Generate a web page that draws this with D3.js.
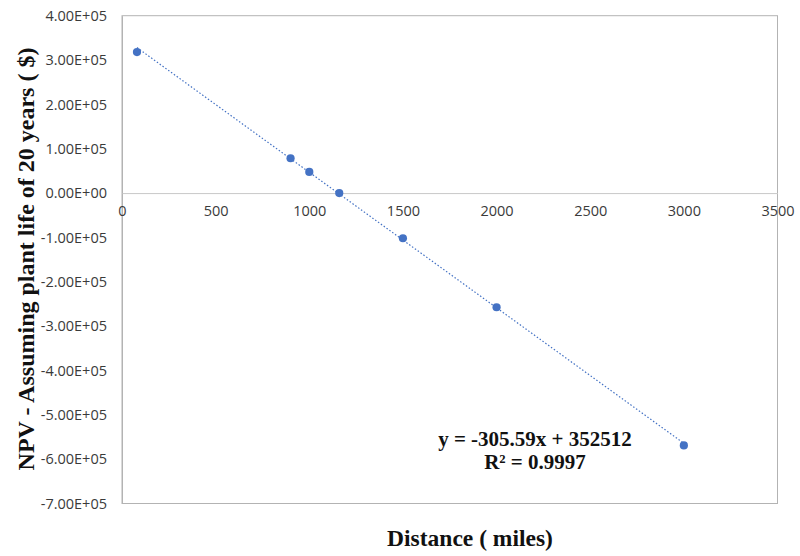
<!DOCTYPE html>
<html><head><meta charset="utf-8">
<script src="https://cdn.jsdelivr.net/npm/d3@7"></script>
<style>body{margin:0;background:#fff}</style>
</head><body>
<svg id="c" width="800" height="556"></svg>
<script>
const distances = [80, 900, 1000, 1160, 1500, 2000, 3000];
const npvValues = [318000, 78500, 47600, 0, -101900, -257500, -569000];
const xTicks = [0, 500, 1000, 1500, 2000, 2500, 3000, 3500];
const yTicks = [400000, 300000, 200000, 100000, 0, -100000, -200000, -300000, -400000, -500000, -600000, -700000];
const slope = -305.59, intercept = 352512;
const eqLines = ["y = -305.59x + 352512", "R² = 0.9997"];

const svg = d3.select("#c");
const L = 122, R = 777.5, T = 15.7, B = 503.5;
const x = d3.scaleLinear().domain([0, 3500]).range([L, R]);
const y = d3.scaleLinear().domain([-700000, 400000]).range([B, T]);
const fmt = v => v.toExponential(2).toUpperCase().replace("E+", "E+0").replace("E-", "E-0");
const fmtY = v => v === 0 ? "0.00E+00" : fmt(v);

// plot border
svg.append("rect").attr("x", L).attr("y", T).attr("width", R - L).attr("height", B - T)
  .attr("fill", "none").attr("stroke", "#b3b3b3").attr("stroke-width", 1);

// y axis
const yAxis = d3.axisLeft(y).tickValues(yTicks).tickFormat(fmtY).tickSize(0).tickPadding(15);
const gy = svg.append("g").attr("transform", `translate(${L},0)`).call(yAxis);
gy.attr("font-size", null).attr("font-family", null);
gy.select(".domain").attr("stroke", "#b3b3b3");
gy.selectAll("text").style("font-family", "'Open Sans', sans-serif").style("font-size", "14.5px").attr("fill", "#3a3a3a");

// x axis at zero
const xAxis = d3.axisBottom(x).tickValues(xTicks).tickFormat(d3.format("d")).tickSize(0).tickPadding(13);
const gx = svg.append("g").attr("transform", `translate(0,${y(0)})`).call(xAxis);
gx.attr("font-size", null).attr("font-family", null);
gx.select(".domain").attr("stroke", "#c8c8c8");
gx.selectAll("text").style("font-family", "'Open Sans', sans-serif").style("font-size", "14.5px").attr("fill", "#3a3a3a");

// trendline
const xs = d3.extent(distances);
svg.append("line")
  .attr("x1", x(xs[0])).attr("y1", y(slope * xs[0] + intercept))
  .attr("x2", x(xs[1])).attr("y2", y(slope * xs[1] + intercept))
  .attr("stroke", "#4472C4").attr("stroke-width", 1.2).attr("stroke-dasharray", "1.5,2");

// points
svg.append("g").selectAll("circle").data(distances).join("circle")
  .attr("cx", d => x(d)).attr("cy", (d, i) => y(npvValues[i])).attr("r", 4.1)
  .attr("fill", "#4472C4");

// equation
svg.append("g").selectAll("text").data(eqLines).join("text")
  .attr("x", 535).attr("y", (d, i) => 446 + i * 23).attr("text-anchor", "middle")
  .attr("font-family", "'Liberation Serif', 'Times New Roman', serif").attr("font-weight", "bold")
  .attr("font-size", 21).attr("fill", "#111").text(d => d);

// axis titles
svg.append("text").attr("x", 470).attr("y", 546).attr("text-anchor", "middle")
  .attr("font-family", "'Liberation Serif', 'Times New Roman', serif").attr("font-weight", "bold")
  .attr("font-size", 23.5).attr("fill", "#111").text("Distance ( miles)");
svg.append("text").attr("transform", "translate(34,259) rotate(-90)").attr("text-anchor", "middle")
  .attr("font-family", "'Liberation Serif', 'Times New Roman', serif").attr("font-weight", "bold")
  .attr("font-size", 24).attr("fill", "#111").text("NPV - Assuming plant life of 20 years ( $)");
</script>
</body></html>
